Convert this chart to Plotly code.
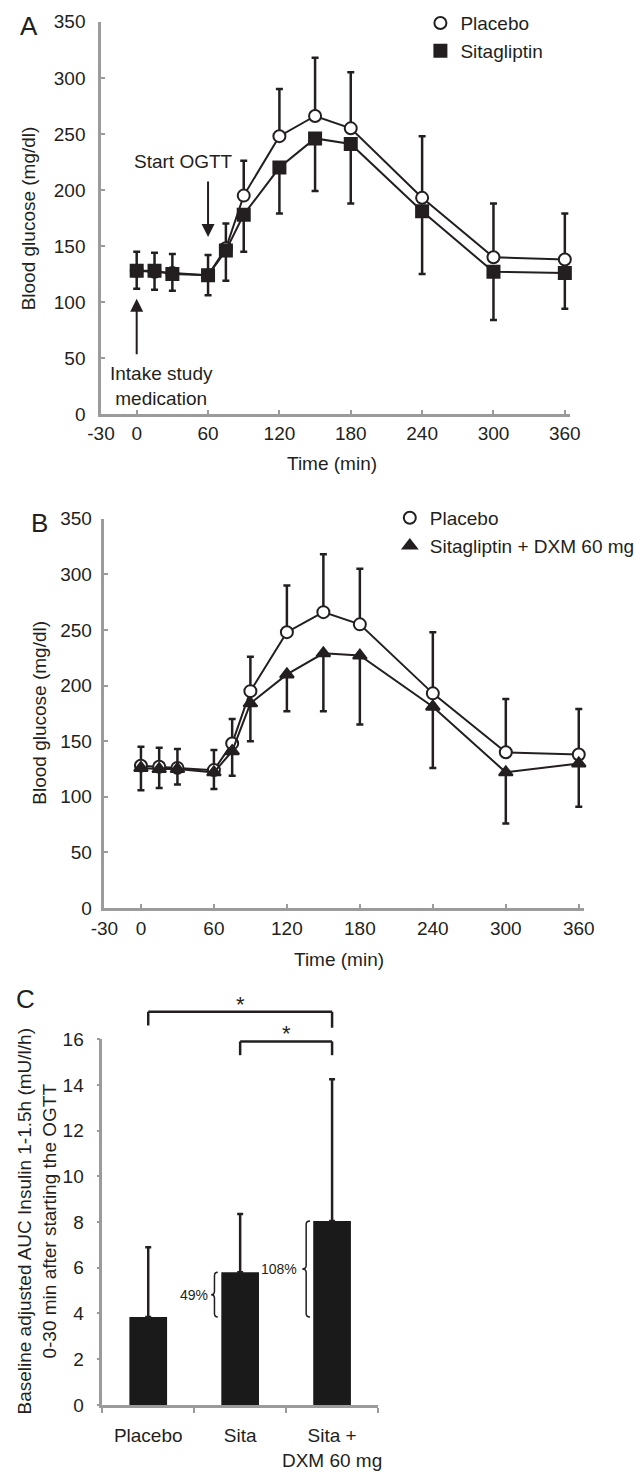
import plotly.graph_objects as go

# ---------------- data ----------------
time_min = [0, 15, 30, 60, 75, 90, 120, 150, 180, 240, 300, 360]
placebo = [128, 127, 126, 124, 148, 195, 248, 266, 255, 193, 140, 138]
placebo_sd = [17, 17, 17, 18, 22, 31, 42, 52, 50, 55, 48, 41]
sitagliptin = [128, 128, 125, 124, 146, 178, 220, 246, 241, 181, 127, 126]
sitagliptin_sd = [16, 17, 15, 18, 27, 33, 41, 47, 53, 56, 43, 32]
sita_dxm = [126, 125, 125, 122, 141, 184, 210, 229, 227, 181, 122, 130]
sita_dxm_sd = [20, 17, 14, 15, 22, 34, 33, 52, 62, 55, 46, 39]

x_tick_vals = [-30, 0, 60, 120, 180, 240, 300, 360]
x_tick_text = ["-30", "0", "60", "120", "180", "240", "300", "360"]
y_tick_vals = [0, 50, 100, 150, 200, 250, 300, 350]

groups = ["Placebo", "Sita", "Sita +<br>DXM 60 mg"]
auc = [3.85, 5.8, 8.05]
auc_sd = [3.05, 2.55, 6.2]
increase_labels = ["49%", "108%"]

# ---------------- style ----------------
W, H = 640, 1481
FONT = "Liberation Sans, Arial, Helvetica, sans-serif"
INK = "#231f20"
AXIS = "#9b9b9b"
FS = 19


def pxx(p):
    return p / W


def pxy(p):
    return 1 - p / H


fig = go.Figure()


def series(x, y, sd, up, symbol, fill, xa, ya, name):
    err = dict(type="data", symmetric=False,
               array=sd if up else [0] * len(sd),
               arrayminus=[0] * len(sd) if up else sd,
               color=INK, thickness=2.5, width=3.5)
    fig.add_trace(go.Scatter(
        x=x, y=y, mode="lines+markers", name=name, showlegend=False,
        line=dict(color=INK, width=2),
        marker=dict(symbol=symbol, size=12, color=fill, line=dict(color=INK, width=2)),
        error_y=err, xaxis=xa, yaxis=ya, cliponaxis=False))


def legend_entry(symbol, fill, name, legend):
    fig.add_trace(go.Scatter(
        x=[None], y=[None], mode="markers", name=name, legend=legend,
        marker=dict(symbol=symbol, size=12, color=fill, line=dict(color=INK, width=2)),
        xaxis="x", yaxis="y"))


# Panel A
series(time_min, placebo, placebo_sd, True, "circle", "white", "x", "y", "Placebo")
series(time_min, sitagliptin, sitagliptin_sd, False, "square", INK, "x", "y", "Sitagliptin")
legend_entry("circle", "white", "Placebo", "legend")
legend_entry("square", INK, "Sitagliptin", "legend")

# Panel B
series(time_min, placebo, placebo_sd, True, "circle", "white", "x2", "y2", "Placebo")
series(time_min, sita_dxm, sita_dxm_sd, False, "triangle-up", INK, "x2", "y2",
       "Sitagliptin + DXM 60 mg")
legend_entry("circle", "white", "Placebo", "legend2")
legend_entry("triangle-up", INK, "Sitagliptin + DXM 60 mg", "legend2")

# Panel C
bar_x = list(range(len(groups)))
fig.add_trace(go.Bar(
    x=bar_x, y=auc, width=0.41, marker=dict(color="#1a1a1a", line=dict(width=0)),
    error_y=dict(type="data", symmetric=False, array=auc_sd, arrayminus=[0] * 3,
                 color=INK, thickness=2.5, width=3),
    xaxis="x3", yaxis="y3", showlegend=False))

tickfont = dict(family=FONT, size=FS, color=INK)

line_axis_common = dict(showline=True, linecolor=AXIS, linewidth=2.5, showgrid=False,
                        zeroline=False, ticks="inside", ticklen=4, tickwidth=2,
                        tickcolor=AXIS, tickfont=tickfont)

# plot-area geometry (pixels)
A_x0, A_x1, A_y0, A_y1 = 91, 581, 410, 12      # x range -30..364
B_x0, B_x1, B_y0, B_y1 = 94.6, 595.7, 911, 516
C_x0, C_x1, C_y0, C_y1 = 92.3, 380.7, 1415, 1044
C_ymax = 16

fig.update_layout(
    width=W, height=H, margin=dict(l=0, r=0, t=0, b=0),
    paper_bgcolor="white", plot_bgcolor="white",
    font=dict(family=FONT, size=FS, color=INK),
    xaxis=dict(domain=[pxx(A_x0), pxx(A_x1)], range=[-30, 364], anchor="y",
               tickmode="array", tickvals=x_tick_vals, ticktext=x_tick_text,
               ticklabelstandoff=0, **line_axis_common),
    yaxis=dict(domain=[pxy(A_y0), pxy(A_y1)], range=[0, 350], anchor="x",
               tickmode="array", tickvals=y_tick_vals, ticklabelstandoff=9,
               **line_axis_common),
    xaxis2=dict(domain=[pxx(B_x0), pxx(B_x1)], range=[-30, 364], anchor="y2",
                tickmode="array", tickvals=x_tick_vals, ticktext=x_tick_text,
                ticklabelstandoff=1, **line_axis_common),
    yaxis2=dict(domain=[pxy(B_y0), pxy(B_y1)], range=[0, 350], anchor="x2",
                tickmode="array", tickvals=y_tick_vals, ticklabelstandoff=6,
                **line_axis_common),
    xaxis3=dict(domain=[pxx(C_x0), pxx(C_x1)], range=[-0.5, 2.5], anchor="y3",
                showline=True, linecolor=AXIS, linewidth=2.5, showgrid=False,
                zeroline=False, tickmode="array", tickvals=bar_x, ticktext=groups,
                ticks="", tickfont=tickfont, ticklabelstandoff=12,
                minor=dict(tickmode="array", tickvals=[-0.5, 0.5, 1.5, 2.5],
                           ticks="outside", ticklen=5, tickwidth=2, tickcolor=AXIS,
                           showgrid=False)),
    yaxis3=dict(domain=[pxy(C_y0), pxy(C_y1)], range=[0, C_ymax], anchor="x3",
                showline=True, linecolor=AXIS, linewidth=2.5, showgrid=False,
                zeroline=False, tickmode="linear", tick0=0, dtick=2,
                ticks="outside", ticklen=3, tickwidth=2, tickcolor=AXIS,
                tickfont=tickfont, ticklabelstandoff=9),
    legend=dict(x=pxx(425), xanchor="left", y=pxy(-6), yanchor="top",
                bgcolor="rgba(0,0,0,0)", font=dict(family=FONT, size=FS, color=INK),
                tracegroupgap=0),
    legend2=dict(x=pxx(393), xanchor="left", y=pxy(496), yanchor="top",
                 bgcolor="rgba(0,0,0,0)", font=dict(family=FONT, size=FS, color=INK),
                 tracegroupgap=0),
    bargap=0.59,
)

ann = []


def ptext(x, y, text, size=FS, angle=0, **kw):
    ann.append(dict(x=pxx(x), y=pxy(y), xref="paper", yref="paper", text=text,
                    showarrow=False, textangle=angle, xanchor="center", yanchor="middle",
                    font=dict(family=FONT, size=size, color=INK), **kw))


# Panel letters
ptext(15.5, 16, "A", size=26)
ptext(27, 520, "B", size=26)
ptext(12, 1003, "C", size=26)

# Axis titles
ptext(15, 211, "Blood glucose (mg/dl)", angle=-90)
ptext(27, 713, "Blood glucose (mg/dl)", angle=-90)
ptext(333, 460, "Time (min)")
ptext(340, 963, "Time (min)")
ptext(24, 1228, "Baseline adjusted AUC Insulin 1-1.5h (mU/l/h)<br>0-30 min after starting the OGTT",
      angle=-90)

# Panel A event arrows
ptext(177, 154, "Start OGTT")
ann.append(dict(x=60, y=158, xref="x", yref="y", ax=0, ay=-57,
                text="", showarrow=True, arrowhead=2, arrowsize=1.3, arrowwidth=2,
                arrowcolor=INK))
ptext(154, 381, "Intake study<br>medication")
ann.append(dict(x=0, y=103, xref="x", yref="y", ax=0, ay=57,
                text="", showarrow=True, arrowhead=2, arrowsize=1.3, arrowwidth=2,
                arrowcolor=INK))


def c_paper_y(v):
    # map a panel-C data value onto paper coordinates (for marks above the axis range)
    y0, y1 = pxy(C_y0), pxy(C_y1)
    return y0 + v / C_ymax * (y1 - y0)


# Panel C significance stars
ann.append(dict(x=1, y=c_paper_y(16.9), xref="x3", yref="paper", text="*",
                showarrow=False, font=dict(family=FONT, size=22, color=INK)))
ann.append(dict(x=1.5, y=c_paper_y(15.62), xref="x3", yref="paper", text="*",
                showarrow=False, font=dict(family=FONT, size=22, color=INK)))

# Percent increase labels
ann.append(dict(x=0.669, y=(auc[0] + auc[1]) / 2, xref="x3", yref="y3",
                text=increase_labels[0], showarrow=False, xanchor="right",
                font=dict(family=FONT, size=14, color=INK)))
ann.append(dict(x=1.643, y=(auc[0] + auc[2]) / 2, xref="x3", yref="y3",
                text=increase_labels[1], showarrow=False, xanchor="right",
                font=dict(family=FONT, size=14, color=INK)))

fig.update_layout(annotations=ann)

shapes = []


def dom_x(v):
    return (v + 0.5) / 3


def dom_y(v):
    return v / C_ymax


def bracket(i, j, top, left_bottom, right_bottom):
    for (xa, ya, xb, yb) in [(i, left_bottom, i, top), (i, top, j, top), (j, top, j, right_bottom)]:
        shapes.append(dict(type="line", xref="x3 domain", yref="y3 domain",
                           x0=dom_x(xa), y0=dom_y(ya), x1=dom_x(xb), y1=dom_y(yb),
                           line=dict(color=INK, width=2.5)))


bracket(0, 2, 17.2, 16.6, 16.5)
bracket(1, 2, 15.9, 15.3, 15.3)


def brace(xr, xl, ytop, ybot):
    xm = (xr + xl) / 2
    ymid = (ytop + ybot) / 2
    q = 0.15
    path = (f"M {xr},{ytop} Q {xm},{ytop} {xm},{ytop - q} L {xm},{ymid + q} "
            f"Q {xm},{ymid} {xl},{ymid} Q {xm},{ymid} {xm},{ymid - q} "
            f"L {xm},{ybot + q} Q {xm},{ybot} {xr},{ybot}")
    shapes.append(dict(type="path", xref="x3", yref="y3", path=path,
                       line=dict(color=INK, width=1.5)))


brace(0.757, 0.684, auc[1], auc[0])
brace(1.76, 1.676, auc[2], auc[0])

fig.update_layout(shapes=shapes)

fig.write_html("out.html", config={"displayModeBar": False},
               post_script="document.body.style.margin='0px';document.body.style.padding='0px';")
